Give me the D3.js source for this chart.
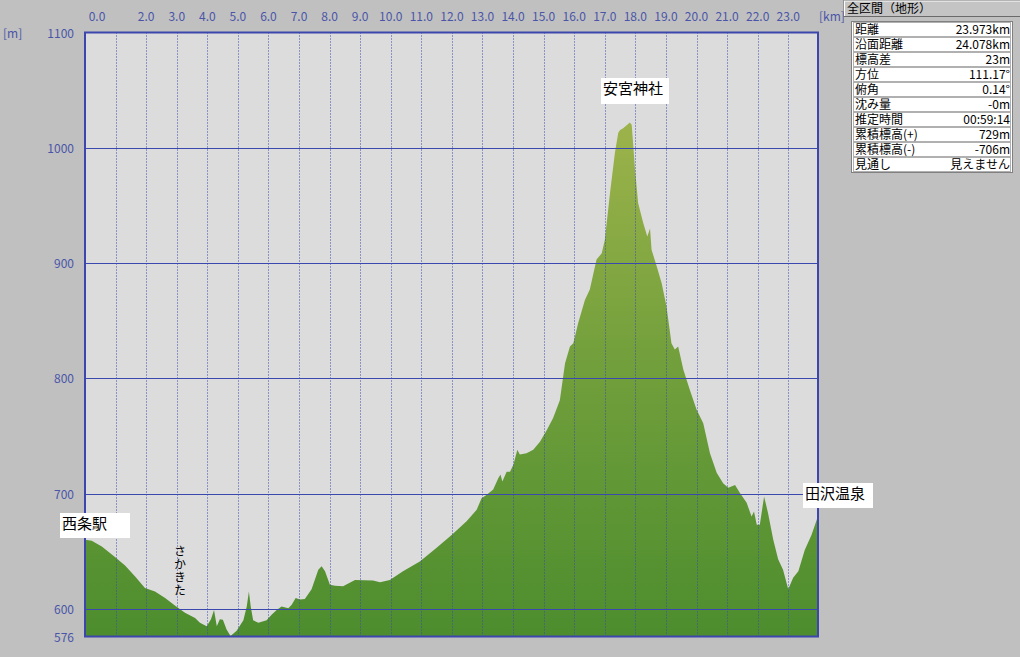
<!DOCTYPE html>
<html><head><meta charset="utf-8">
<script src="https://cdn.jsdelivr.net/npm/d3@7"></script>
<style>
html,body{margin:0;padding:0;background:#c0c0c0;}
svg{display:block;}
text{font-family:"Noto Sans CJK JP","DejaVu Sans",sans-serif;}
</style></head>
<body><svg id="c" width="1020" height="657"></svg>
<script>
// distance along route [km]
const distKm = [0,0.22,0.55,0.98,1.31,1.64,1.96,2.29,2.62,2.94,3.27,3.60,3.76,3.98,4.12,4.22,4.31,4.41,4.51,4.63,4.76,4.96,5.18,5.29,5.36,5.42,5.50,5.67,5.94,6.11,6.27,6.43,6.65,6.76,6.89,7.03,7.19,7.41,7.63,7.74,7.85,8.01,8.18,8.44,8.83,9.42,9.65,9.97,10.40,10.95,11.50,11.99,12.48,12.81,12.97,13.14,13.35,13.52,13.59,13.65,13.79,13.90,14.01,14.14,14.22,14.44,14.66,14.88,15.10,15.31,15.53,15.70,15.86,15.97,16.13,16.35,16.51,16.73,16.90,17.00,17.17,17.33,17.44,17.50,17.60,17.82,17.88,17.99,18.09,18.26,18.39,18.48,18.53,18.70,18.86,19.02,19.18,19.29,19.40,19.57,19.78,20.00,20.22,20.44,20.66,20.87,21.04,21.26,21.42,21.64,21.80,21.88,21.97,22.07,22.21,22.34,22.51,22.67,22.83,23.00,23.16,23.33,23.54,23.76,23.93,23.973];
// elevation [m]
const elevM = [660,659,654,645,637.5,628,618,615,609.5,603,596.5,592,588,585,591,599,585,591,590.5,582,576.5,581,590,602,615,602,590,588,590,595,599,602,600.5,603.5,609.5,608,608.5,617,634,637,632.5,621,620,619.5,625,624.5,623,625,632.5,641,653,664,676,686,696,699,703.5,713.5,716.5,710.5,719,719,725,738,734,735,738,745,755,765.5,781,813,827.5,830.5,848,868,877,903,908.5,920,960.5,995.5,1013,1015.5,1017,1022,1020,981,952,934.5,923,930,911.5,897,882.5,862,830.5,825,827.5,807.5,790,773,761,735,718,709,705,707.5,700.5,692,680,684.5,673,673,697.5,683,660,643,634,617,627,632.5,651,664,677,681];
const xTickValues = [0,2,3,4,5,6,7,8,9,10,11,12,13,14,15,16,17,18,19,20,21,22,23];
const xTickLabels = ["0.0","2.0","3.0","4.0","5.0","6.0","7.0","8.0","9.0","10.0","11.0","12.0","13.0","14.0","15.0","16.0","17.0","18.0","19.0","20.0","21.0","22.0","23.0"];
const yTickValues = [1100,1000,900,800,700,600,576];
const yGridValues = [1000,900,800,700,600];
const xGridValues = [1,2,3,4,5,6,7,8,9,10,11,12,13,14,15,16,17,18,19,20,21,22,23];
const places = [
  {name:"西条駅", km:0, elev:660},
  {name:"安宮神社", km:17.82, elev:1022},
  {name:"田沢温泉", km:23.973, elev:681}
];
const waypointLabel = "さかきた";
const infoLabels = ["距離","沿面距離","標高差","方位","俯角","沈み量","推定時間","累積標高(+)","累積標高(-)","見通し"];
const infoValues = ["23.973km","24.078km","23m","111.17°","0.14°","-0m","00:59:14","729m","-706m","見えません"];

const svg = d3.select("#c");
const L=85, R=818, T=32.5, B=636.5;
const x = d3.scaleLinear().domain([0,23.973]).range([L,R]);
const y = d3.scaleLinear().domain([576,1100]).range([B,T]);
const axisCol = "#4a55a8";
const gridCol = "#3a48b0";

svg.append("rect").attr("width",1020).attr("height",657).attr("fill","#c0c0c0");
svg.append("rect").attr("x",L).attr("y",T).attr("width",R-L).attr("height",B-T).attr("fill","#dcdcdc");

const defs = svg.append("defs");
const g = defs.append("linearGradient").attr("id","gr").attr("gradientUnits","userSpaceOnUse")
  .attr("x1",0).attr("x2",0).attr("y1",y(1022)).attr("y2",y(576));
g.append("stop").attr("offset","0").attr("stop-color","#9db34b");
g.append("stop").attr("offset","0.45").attr("stop-color","#73a03c");
g.append("stop").attr("offset","1").attr("stop-color","#4d8d2e");

const data = distKm.map((d,i)=>({km:d, e:elevM[i]}));
const area = d3.area().x(d=>x(d.km)).y0(B).y1(d=>y(d.e));
svg.append("path").datum(data).attr("d",area).attr("fill","url(#gr)");

// vertical dotted grid
svg.append("g").selectAll("line").data(xGridValues).join("line")
  .attr("x1",d=>Math.round(x(d))+0.5).attr("x2",d=>Math.round(x(d))+0.5)
  .attr("y1",T).attr("y2",B)
  .attr("stroke",gridCol).attr("stroke-width",1).attr("stroke-dasharray","1,2");
// horizontal grid
svg.append("g").selectAll("line").data(yGridValues).join("line")
  .attr("x1",L).attr("x2",R)
  .attr("y1",d=>Math.round(y(d))+0.5).attr("y2",d=>Math.round(y(d))+0.5)
  .attr("stroke",gridCol).attr("stroke-width",1);
// frame
svg.append("rect").attr("x",L).attr("y",T).attr("width",R-L).attr("height",B-T)
  .attr("fill","none").attr("stroke","#3c46ac").attr("stroke-width",2);

// top axis labels
svg.append("g").selectAll("text").data(xTickValues).join("text")
  .attr("x",(d)=> d===0 ? 97 : x(d)).attr("y",21)
  .attr("text-anchor","middle").attr("font-size",12).attr("fill",axisCol)
  .text((d,i)=>xTickLabels[i]);
svg.append("text").attr("x",819).attr("y",21).attr("font-size",12).attr("fill",axisCol).text("[km]");

// left axis labels
svg.append("g").selectAll("text").data(yTickValues).join("text")
  .attr("x",74).attr("y",d=>y(d)+5).attr("text-anchor","end")
  .attr("font-size",12).attr("fill",axisCol).text(d=>d);
svg.append("text").attr("x",3).attr("y",y(1100)+5).attr("font-size",12).attr("fill",axisCol).text("[m]");

// place labels
const boxes = [
  {p:places[0], bx:60, by:513, bw:70, bh:25},
  {p:places[1], bx:601, by:78, bw:68, bh:26},
  {p:places[2], bx:803, by:483, bw:70, bh:25}
];
boxes.forEach(b=>{
  svg.append("rect").attr("x",b.bx).attr("y",b.by).attr("width",b.bw).attr("height",b.bh).attr("fill","#ffffff");
  svg.append("text").attr("x",b.bx+2).attr("y",b.by+16).attr("font-size",15).attr("fill","#000").text(b.p.name);
});
// vertical label さかきた
svg.append("text").attr("x",180).attr("y",545)
  .style("writing-mode","vertical-rl").style("letter-spacing","1px")
  .attr("font-size",12).attr("fill","#000").text(waypointLabel);

// info panel
svg.append("rect").attr("x",844).attr("y",0.5).attr("width",180).attr("height",16)
  .attr("fill","#c4c4c4").attr("stroke","#6a6a6a");
svg.append("line").attr("x1",844).attr("x2",1020).attr("y1",1).attr("y2",1).attr("stroke","#ffffff");
svg.append("line").attr("x1",844.5).attr("x2",844.5).attr("y1",1).attr("y2",16).attr("stroke","#ffffff");
svg.append("text").attr("x",847).attr("y",13).attr("font-size",12).attr("fill","#000").text("全区間（地形）");
svg.append("rect").attr("x",851.5).attr("y",21.5).attr("width",161).attr("height",151)
  .attr("fill","#ffffff").attr("stroke","#808080");
const rowH = 15;
const rows = svg.append("g").selectAll("g").data(infoLabels).join("g")
  .attr("transform",(d,i)=>`translate(0,${22+i*rowH})`);
rows.append("rect").attr("x",853.5).attr("y",0.5).attr("width",157).attr("height",rowH-1)
  .attr("fill","#ffffff").attr("stroke","#b0b0b0");
rows.append("text").attr("x",855).attr("y",12).attr("font-size",12).attr("fill","#000").text(d=>d);
rows.append("text").attr("x",1010).attr("y",12).attr("text-anchor","end").attr("font-size",12).attr("fill","#000").text((d,i)=>infoValues[i]);
</script></body></html>
